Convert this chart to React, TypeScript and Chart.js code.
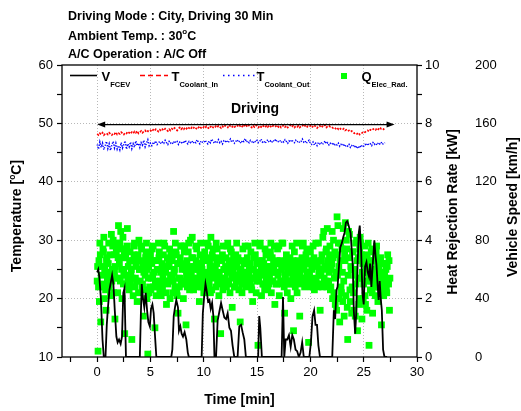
import { useEffect, useRef } from 'react';
import { Chart, registerables } from 'chart.js';

Chart.register(...registerables);

const FONT = '"Liberation Sans", Arial, Helvetica, sans-serif';

// ---- axis ticks ----
const timeTicks = [-2.5, 0, 2.5, 5, 7.5, 10, 12.5, 15, 17.5, 20, 22.5, 25, 27.5, 30];
const timeLabelled = [0, 5, 10, 15, 20, 25, 30];
const timeGrid = [0, 5, 10, 15, 20, 25];
const tempTicks = [10, 15, 20, 25, 30, 35, 40, 45, 50, 55, 60];
const tempLabelled = [10, 20, 30, 40, 50, 60];
const tempGrid = [20, 30, 40, 50];
const heatTicks = [0, 1, 2, 3, 4, 5, 6, 7, 8, 9, 10];
const heatLabelled = [0, 2, 4, 6, 8, 10];
const speedTicks = [0, 40, 80, 120, 160, 200];

// ---- measured series ----
// heat rejection of the electric radiator [kW], one sample every 2.5 s
const qStepMin = 2.5 / 60;
const qElecRad = [
  2.6, 3.1, 0.2, 2.4, 3.3, 1.9, 3.9, 3.5, 1.2, 2.8, 3.1, 2.5, 2.4, 3.7, 3.6, 4.1, 2.0, 3.0, 2.9, 2.3, 1.6, 3.3, 3.4, 2.7,
  2.5, 3.2, 3.9, 2.4, 2.8, 3.5, 2.1, 2.9, 4.2, 2.6, 3.0, 3.8, 4.0, 2.2, 3.5, 2.9, 1.3, 3.1, 2.7, 3.6, 3.8, 3.9, 2.2, 3.4,
  4.5, 2.7, 3.2, 3.9, 2.6, 4.3, 3.7, 3.0, 2.0, 3.4, 4.1, 2.5, 2.9, 3.6, 0.8, 2.8, 3.4, 3.7, 2.5, 3.8, 4.4, 2.6, 3.1, 2.4,
  2.3, 3.3, 3.6, 2.5, 2.8, 3.0, 0.6, 2.7, 3.3, 2.1, 3.8, 3.5, 3.9, 2.4, 2.7, 3.2, 3.1, 2.6, 1.9, 3.4, 3.5, 2.2, 4.0, 3.0,
  3.0, 2.6, 3.8, 3.3, 3.7, 2.4, 2.5, 3.1, 1.4, 2.9, 3.2, 2.3, 2.8, 3.4, 3.6, 3.9, 2.0, 3.0, 0.1, 2.7, 3.1, 2.2, 2.4, 3.3,
  3.5, 2.3, 2.7, 3.2, 3.7, 2.8, 3.8, 2.4, 2.9, 3.3, 1.0, 2.6, 3.3, 2.1, 2.4, 3.0, 3.0, 2.5, 3.9, 3.4, 3.6, 2.3, 2.6, 2.9,
  2.1, 3.0, 3.2, 2.4, 2.7, 3.5, 3.9, 2.6, 3.8, 2.9, 3.0, 2.2, 1.8, 3.1, 3.4, 2.5, 2.6, 3.3, 3.1, 3.7, 2.0, 2.8, 3.5, 2.7,
  2.8, 3.3, 2.2, 2.6, 4.3, 2.9, 3.0, 2.4, 3.9, 3.6, 3.5, 2.2, 2.1, 3.2, 1.5, 2.7, 3.2, 2.4, 2.7, 3.4, 3.8, 2.5, 3.8, 3.0,
  3.1, 2.5, 2.0, 3.2, 3.6, 3.8, 2.6, 3.0, 1.1, 2.8, 3.3, 2.4, 2.8, 3.6, 3.9, 2.5, 2.3, 3.1, 4.0, 2.6, 2.9, 3.4, 4.1, 2.7,
  3.4, 2.3, 2.5, 3.1, 3.0, 2.6, 3.8, 3.3, 3.7, 2.5, 2.7, 3.0, 3.2, 2.4, 1.9, 2.8, 3.5, 3.9, 2.4, 3.2, 3.0, 2.7, 2.6, 3.4,
  2.2, 2.9, 3.6, 2.5, 2.9, 3.4, 3.3, 2.3, 3.9, 2.8, 3.8, 2.6, 2.5, 3.3, 3.1, 2.2, 4.1, 2.9, 2.3, 3.5, 3.4, 3.7, 2.7, 3.1,
  1.3, 2.8, 3.0, 2.4, 3.9, 3.2, 3.7, 2.6, 2.8, 3.4, 2.1, 2.9, 3.3, 2.5, 0.8, 2.7, 2.6, 3.3, 3.5, 2.3, 3.8, 3.0, 3.0, 2.5,
  2.7, 3.1, 3.4, 2.4, 3.8, 2.9, 3.9, 2.6, 2.5, 3.3, 3.1, 2.2, 3.7, 3.0, 3.6, 2.7, 1.7, 2.8, 2.9, 3.4, 3.2, 2.4, 2.4, 3.1,
  3.5, 2.6, 3.9, 3.1, 2.8, 3.4, 3.3, 2.3, 2.6, 3.0, 1.2, 2.8, 3.0, 2.5, 2.2, 3.3, 3.7, 2.6, 2.7, 3.2, 3.2, 3.8, 2.4, 2.9,
  2.9, 3.3, 3.4, 2.5, 3.8, 2.8, 3.1, 2.6, 2.5, 3.2, 3.6, 2.4, 2.3, 3.0, 1.9, 2.7, 3.0, 3.4, 2.7, 3.9, 3.5, 2.9, 2.2, 2.6,
  3.2, 2.7, 0.4, 2.9, 2.6, 3.3, 3.8, 3.9, 2.9, 3.1, 2.1, 2.8, 3.3, 2.5, 2.5, 3.2, 3.0, 2.3, 3.7, 2.9, 3.5, 2.6, 2.7, 3.1,
  2.4, 3.0, 3.1, 2.5, 2.8, 3.4, 3.6, 3.9, 2.2, 2.9, 3.4, 2.6, 2.6, 3.2, 3.0, 3.8, 1.8, 2.9, 3.2, 2.5, 2.5, 3.3, 3.7, 2.8,
  2.9, 3.8, 2.1, 3.2, 3.3, 2.6, 2.6, 3.0, 3.9, 2.5, 3.9, 3.1, 3.1, 2.4, 1.5, 2.8, 2.8, 3.3, 3.5, 2.6, 2.2, 2.9, 3.0, 2.5,
  2.5, 3.2, 3.4, 2.6, 2.0, 2.9, 3.1, 3.8, 2.7, 3.3, 0.9, 2.8, 3.6, 2.5, 2.4, 3.0, 3.0, 3.9, 2.2, 3.2, 3.3, 2.6, 2.8, 3.1,
  1.4, 2.9, 3.2, 2.5, 2.6, 3.4, 3.8, 2.7, 3.9, 3.1, 3.0, 2.4, 2.7, 3.3, 3.5, 2.5, 3.7, 2.9, 3.3, 2.6, 0.5, 2.8, 2.9, 3.2,
  3.6, 2.5, 2.4, 3.0, 3.1, 2.6, 3.8, 3.2, 3.4, 2.3, 2.7, 3.1, 3.9, 2.6, 2.5, 3.3, 3.2, 2.4, 3.9, 2.9, 3.0, 2.5, 1.6, 2.8,
  2.8, 3.3, 3.5, 2.4, 4.1, 3.0, 4.3, 2.7, 3.1, 2.5, 2.6, 3.6, 3.7, 2.4, 4.4, 3.2, 3.3, 2.6, 2.9, 3.5, 3.8, 2.3, 2.4, 3.0,
  3.2, 4.3, 2.0, 3.4, 4.0, 2.2, 2.7, 3.6, 1.8, 2.9, 3.5, 1.6, 4.8, 2.8, 4.5, 3.9, 3.1, 2.0, 1.2, 3.3, 3.9, 2.4, 2.2, 3.7,
  2.9, 1.9, 4.4, 2.6, 1.4, 3.5, 3.3, 4.6, 2.1, 4.0, 3.7, 1.7, 0.6, 2.8, 4.3, 3.4, 4.2, 2.3, 1.9, 3.1, 3.0, 1.5, 2.4, 3.6,
  3.6, 2.2, 1.6, 3.0, 2.8, 1.4, 3.9, 2.5, 4.0, 3.3, 0.9, 2.7, 3.4, 1.8, 2.0, 3.7, 4.1, 3.9, 2.7, 3.5, 1.3, 2.9, 3.2, 2.0,
  2.5, 3.4, 3.8, 2.1, 1.8, 3.0, 2.9, 1.6, 3.5, 2.6, 3.9, 3.3, 0.4, 2.8, 3.1, 2.3, 2.6, 3.6, 3.7, 2.2, 1.5, 3.0, 2.8, 2.4,
  3.3, 2.5, 2.1, 3.4, 3.6, 3.8, 2.7, 3.1, 1.9, 2.8, 3.0, 2.4, 2.4, 3.3, 3.4, 2.6, 1.1, 2.5, 2.8, 3.2, 3.2, 2.1, 2.3, 2.9,
  2.7, 3.2, 3.0, 2.4, 2.2, 3.1, 3.5, 2.6, 2.5, 3.3, 1.6, 2.7,
];

// coolant temperatures [°C], one sample every 7.5 s
const coolantStepMin = 0.125;
const tCoolantIn = [
  48.2, 48.0, 48.3, 48.1, 48.4, 48.0, 48.2, 48.3,
  48.1, 48.4, 48.2, 48.0, 48.3, 48.2, 48.5, 48.1,
  48.3, 48.2, 48.5, 48.3, 48.1, 48.4, 48.3, 48.6,
  48.4, 48.2, 48.5, 48.3, 48.6, 48.4, 48.7, 48.3,
  48.5, 48.7, 48.4, 48.6, 48.8, 48.5, 48.7, 48.6,
  48.8, 48.6, 48.9, 48.7, 49.0, 48.8, 48.6, 48.9,
  48.7, 49.0, 48.8, 49.1, 48.9, 48.7, 49.0, 48.8,
  49.1, 48.9, 49.2, 49.0, 48.8, 49.1, 49.3, 49.0,
  49.2, 49.0, 49.3, 49.1, 49.4, 49.2, 49.0, 49.3,
  49.1, 49.4, 49.2, 49.0, 49.3, 49.5, 49.2, 49.1,
  49.4, 49.2, 49.5, 49.3, 49.1, 49.4, 49.6, 49.3,
  49.2, 49.5, 49.3, 49.6, 49.4, 49.2, 49.5, 49.3,
  49.6, 49.4, 49.3, 49.7, 49.5, 49.3, 49.6, 49.4,
  49.5, 49.7, 49.4, 49.6, 49.3, 49.5, 49.8, 49.4,
  49.6, 49.4, 49.7, 49.5, 49.3, 49.6, 49.4, 49.7,
  49.5, 49.3, 49.6, 49.4, 49.7, 49.5, 49.3, 49.6,
  49.4, 49.7, 49.5, 49.3, 49.6, 49.4, 49.5, 49.7,
  49.4, 49.6, 49.3, 49.5, 49.7, 49.4, 49.6, 49.3,
  49.5, 49.7, 49.4, 49.6, 49.3, 49.5, 49.4, 49.6,
  49.3, 49.5, 49.7, 49.4, 49.6, 49.3, 49.5, 49.4,
  49.6, 49.3, 49.5, 49.7, 49.4, 49.2, 49.5, 49.6,
  49.3, 49.5, 49.4, 49.7, 49.3, 49.5, 49.6, 49.4,
  49.4, 49.2, 49.3, 49.1, 49.3, 49.0, 49.2, 49.0,
  48.9, 49.1, 48.8, 48.9, 48.7, 48.8, 48.6, 48.7,
  48.5, 48.3, 48.4, 48.2, 48.4, 48.1, 48.3, 48.4,
  48.6, 48.5, 48.7, 48.8, 48.6, 48.9, 48.8, 49.0,
  49.1, 48.9, 49.2, 49.0, 49.3, 49.1, 49.2, 49.0,
  49.3,
];
const tCoolantOut = [
  46.4, 45.6, 46.8, 45.9, 46.6, 45.5, 46.2, 46.9,
  45.7, 46.5, 45.4, 46.3, 46.9, 45.8, 46.6, 45.6,
  46.2, 45.5, 46.7, 45.8, 46.4, 47.0, 45.6, 46.5,
  46.0, 46.8, 45.7, 46.5, 45.9, 47.0, 46.2, 46.6,
  45.9, 46.7, 46.3, 47.1, 46.0, 46.6, 47.2, 46.2,
  46.6, 46.2, 46.8, 46.5, 47.0, 46.4, 46.7, 46.9,
  46.5, 46.8, 46.6, 47.1, 46.7, 46.4, 46.9, 46.6,
  46.8, 46.5, 47.0, 46.7, 46.9, 46.4, 46.8, 46.6,
  46.9, 46.6, 47.1, 46.8, 46.5, 46.9, 46.7, 47.0,
  46.6, 46.9, 46.7, 47.2, 46.8, 46.5, 47.0, 46.8,
  46.7, 47.1, 46.8, 46.5, 47.0, 46.7, 47.3, 46.9,
  46.6, 47.0, 46.8, 47.2, 46.7, 46.9, 46.5, 47.0,
  46.8, 47.1, 46.7, 46.9, 47.3, 46.8, 47.0, 46.6,
  46.9, 47.2, 46.8, 47.0, 46.6, 47.1, 46.9, 47.4,
  46.8, 47.0, 46.7, 47.1, 46.9, 46.6, 47.0, 46.8,
  47.1, 46.7, 46.9, 47.3, 46.8, 47.0, 46.6, 46.9,
  47.2, 46.8, 47.0, 46.7, 47.1, 46.9, 47.3, 46.8,
  46.9, 47.1, 46.7, 47.0, 46.8, 47.2, 46.9, 46.6,
  47.0, 46.8, 47.2, 46.9, 46.7, 47.1, 46.8, 47.0,
  46.7, 46.9, 47.3, 46.8, 47.0, 46.6, 46.9, 47.1,
  46.6, 46.4, 46.8, 46.3, 46.6, 46.2, 46.7, 46.5,
  46.8, 46.4, 46.6, 47.0, 46.5, 46.7, 46.3, 46.6,
  46.4, 46.7, 46.2, 46.5, 46.3, 46.6, 46.1, 46.4,
  46.2, 46.5, 46.0, 46.3, 46.1, 46.4, 45.9, 46.2,
  46.0, 46.3, 45.8, 46.1, 45.7, 46.2, 45.9, 46.3,
  46.1, 46.4, 46.2, 46.6, 46.3, 46.5, 46.2, 46.7,
  46.4, 46.6, 46.3, 46.7, 46.5, 46.8, 46.4, 46.6,
  46.7,
];

// vehicle speed trace: time [min] and speed [km/h]
const speedTime = [
  0, 0.1, 0.2, 0.35, 0.5, 0.62, 0.78, 0.9, 1.0, 1.15, 1.3, 1.4, 1.52, 1.65, 1.8, 1.92, 2.05, 2.2, 2.33, 2.45, 2.56, 2.7,
  4.0, 4.1, 4.18, 4.3, 4.42, 4.55, 4.68, 4.8, 4.94, 5.05, 5.18, 5.3, 5.42, 5.55,
  6.95, 7.05, 7.18, 7.3, 7.42, 7.58, 7.67, 7.8, 7.92, 8.05, 8.2, 8.36, 8.5, 8.6,
  9.8, 9.91, 10.03, 10.16, 10.28, 10.4, 10.53, 10.65, 10.78, 10.9, 11.0,
  11.15, 11.3, 11.46, 11.62, 11.77, 11.93, 12.09, 12.24, 12.4, 12.55, 12.7, 12.86,
  13.17, 13.33, 13.5, 13.64, 13.8, 13.95,
  15.1, 15.2, 15.3, 15.45,
  17.3, 17.43, 17.55, 17.68, 17.83, 17.99, 18.15, 18.3, 18.45, 18.61, 18.76, 18.92, 19.08, 19.23, 19.38,
  19.9, 20.05, 20.2, 20.35, 20.48, 20.62, 20.75, 20.9,
  22.05, 22.2, 22.32, 22.45, 22.55, 22.68, 22.8, 22.95, 23.08, 23.2, 23.33, 23.45, 23.55, 23.66, 23.77,
  23.88, 23.98, 24.07, 24.2, 24.3, 24.42, 24.54, 24.63, 24.76, 24.88, 25.0, 25.13, 25.26, 25.38, 25.5,
  25.6, 25.72, 25.82, 26.0, 26.1, 26.2, 26.3, 26.4, 26.5, 26.6, 26.7, 26.82, 26.95,
  27.2,
];
const speedKmh = [
  58, 60, 55, 40, 12, 0, 0, 22, 33, 46, 52, 56, 50, 32, 14, 10, 12, 9, 14, 44, 47, 0,
  0, 30, 50, 40, 34, 44, 32, 24, 21, 33, 36, 30, 15, 0,
  0, 5, 28, 34, 39, 34, 18, 21, 16, 14, 17, 12, 3, 0,
  0, 30, 41, 50, 45, 38, 39, 33, 37, 28, 0,
  0, 25, 31, 37, 32, 27, 26, 30, 20, 18, 8, 0,
  0, 21, 22, 17, 12, 0,
  0, 28, 20, 0,
  0, 41, 0, 12, 12, 15, 7, 15, 12, 5, 4, 0, 3, 10, 0,
  0, 10, 28, 32, 22, 22, 8, 0,
  0, 32, 26, 46, 48, 62, 75, 78, 82, 85, 92, 93, 91, 88, 85,
  73, 62, 32, 16, 30, 62, 85, 90, 73, 44, 36, 62, 65, 58, 55,
  64, 48, 60, 80, 70, 63, 50, 39, 52, 40, 32, 5, 0,
  0,
];

// "Driving" period marker
const drivingSpan = [0, 27.9];
const drivingArrowTemp = 49.8;

type Seg = { t: string; size: number; dy?: number };

function segFont(s: Seg) {
  return `bold ${s.size}px ${FONT}`;
}
function richWidth(ctx: CanvasRenderingContext2D, segs: Seg[]) {
  let w = 0;
  for (const s of segs) {
    ctx.font = segFont(s);
    w += ctx.measureText(s.t).width;
  }
  return w;
}
function drawRich(ctx: CanvasRenderingContext2D, segs: Seg[], x: number, y: number) {
  let cx = x;
  for (const s of segs) {
    ctx.font = segFont(s);
    ctx.fillText(s.t, cx, y + (s.dy || 0));
    cx += ctx.measureText(s.t).width;
  }
}
function drawVerticalRich(ctx: CanvasRenderingContext2D, segs: Seg[], baseX: number, centerY: number) {
  ctx.save();
  ctx.translate(baseX, centerY);
  ctx.rotate(-Math.PI / 2);
  drawRich(ctx, segs, -richWidth(ctx, segs) / 2, 0);
  ctx.restore();
}

const overlayPlugin = {
  id: 'overlay',
  afterDatasetsDraw(chart: any) {
    const { ctx, chartArea: a } = chart;
    const xs = chart.scales.x;
    const ys = chart.scales.y;
    ctx.save();
    ctx.setLineDash([]);
    ctx.strokeStyle = '#000';
    ctx.lineWidth = 1.3;
    ctx.strokeRect(a.left, a.top, a.right - a.left, a.bottom - a.top);

    // legend row
    const ly = 75.5;
    ctx.lineWidth = 1.6;
    ctx.beginPath();
    ctx.moveTo(70, ly);
    ctx.lineTo(97, ly);
    ctx.stroke();
    ctx.strokeStyle = '#ff0000';
    ctx.lineWidth = 1.5;
    ctx.setLineDash([5, 3]);
    ctx.beginPath();
    ctx.moveTo(140, ly);
    ctx.lineTo(168, ly);
    ctx.stroke();
    ctx.strokeStyle = '#0000ff';
    ctx.setLineDash([1.5, 3.5]);
    ctx.beginPath();
    ctx.moveTo(223, ly);
    ctx.lineTo(255, ly);
    ctx.stroke();
    ctx.setLineDash([]);
    ctx.fillStyle = '#00ff00';
    ctx.fillRect(341, 73, 6, 6);

    ctx.fillStyle = '#000';
    ctx.textAlign = 'left';
    ctx.textBaseline = 'alphabetic';
    drawRich(ctx, [{ t: 'V', size: 13 }, { t: 'FCEV', size: 7.5, dy: 6 }], 101.5, 81);
    drawRich(ctx, [{ t: 'T', size: 13 }, { t: 'Coolant_In', size: 7.5, dy: 6 }], 171.5, 81);
    drawRich(ctx, [{ t: 'T', size: 13 }, { t: 'Coolant_Out', size: 7.5, dy: 6 }], 256.5, 81);
    drawRich(ctx, [{ t: 'Q', size: 13 }, { t: 'Elec_Rad.', size: 7.5, dy: 6 }], 361.5, 81);

    // driving period arrow
    const ay = ys.getPixelForValue(drivingArrowTemp);
    const x0 = xs.getPixelForValue(drivingSpan[0]);
    const x1 = xs.getPixelForValue(drivingSpan[1]);
    ctx.strokeStyle = '#000';
    ctx.lineWidth = 1.2;
    ctx.beginPath();
    ctx.moveTo(x0 + 4, ay);
    ctx.lineTo(x1 - 4, ay);
    ctx.stroke();
    ctx.beginPath();
    ctx.moveTo(x0, ay);
    ctx.lineTo(x0 + 8, ay - 3);
    ctx.lineTo(x0 + 8, ay + 3);
    ctx.closePath();
    ctx.moveTo(x1, ay);
    ctx.lineTo(x1 - 8, ay - 3);
    ctx.lineTo(x1 - 8, ay + 3);
    ctx.closePath();
    ctx.fill();
    ctx.font = `bold 14px ${FONT}`;
    ctx.textAlign = 'center';
    ctx.fillText('Driving', 255, 113);
    ctx.restore();
  },
  afterDraw(chart: any) {
    const { ctx } = chart;
    ctx.save();
    ctx.fillStyle = '#000';
    ctx.textAlign = 'left';
    ctx.textBaseline = 'alphabetic';
    drawRich(ctx, [{ t: 'Driving Mode : City, Driving 30 Min', size: 12.5 }], 68, 20);
    drawRich(ctx, [{ t: 'Ambient Temp. : 30', size: 12.5 }, { t: 'o', size: 8, dy: -6 }, { t: 'C', size: 12.5 }], 68, 40);
    drawRich(ctx, [{ t: 'A/C Operation : A/C Off', size: 12.5 }], 68, 58);

    drawVerticalRich(ctx, [{ t: 'Temperature [', size: 14 }, { t: 'o', size: 8.5, dy: -6 }, { t: 'C]', size: 14 }], 21, 216);
    drawVerticalRich(ctx, [{ t: 'Heat Rejection Rate [kW]', size: 14 }], 456.5, 212);
    drawVerticalRich(ctx, [{ t: 'Vehicle Speed [km/h]', size: 14 }], 517, 207);
    ctx.textAlign = 'center';
    ctx.font = `bold 14px ${FONT}`;
    ctx.fillText('Time [min]', 239.5, 404);
    ctx.restore();
  },
};

const tickFont = { family: FONT, size: 13 };
const GRID = '#b8b8b8';
const NONE = 'rgba(0,0,0,0)';

export default function App() {
  const ref = useRef<HTMLCanvasElement>(null);

  useEffect(() => {
    const canvas = ref.current;
    if (!canvas) return;

    const qPoints = qElecRad.map((v, i) => ({ x: i * qStepMin, y: v }));
    const inPoints = tCoolantIn.map((v, i) => ({ x: i * coolantStepMin, y: v }));
    const outPoints = tCoolantOut.map((v, i) => ({ x: i * coolantStepMin, y: v }));
    const speedPoints = speedTime.map((t, i) => ({ x: t, y: speedKmh[i] }));

    const chart = new Chart(canvas, {
      type: 'scatter',
      data: {
        datasets: [
          {
            label: 'V_FCEV',
            data: speedPoints,
            yAxisID: 'ySpeed',
            showLine: true,
            borderColor: '#000',
            borderWidth: 1.8,
            pointRadius: 0,
            tension: 0,
          },
          {
            label: 'T_Coolant_In',
            data: inPoints,
            yAxisID: 'y',
            showLine: true,
            borderColor: '#ff0000',
            borderWidth: 1.7,
            borderDash: [2, 1.5],
            pointRadius: 0,
          },
          {
            label: 'T_Coolant_Out',
            data: outPoints,
            yAxisID: 'y',
            showLine: true,
            borderColor: '#0000ff',
            borderWidth: 1.5,
            borderDash: [1.2, 1.5],
            pointRadius: 0,
          },
          {
            label: 'Q_Elec_Rad.',
            data: qPoints,
            yAxisID: 'yQ',
            showLine: false,
            pointStyle: 'rect',
            pointRadius: 4.8,
            pointBorderWidth: 0,
            pointBackgroundColor: '#00ff00',
            backgroundColor: '#00ff00',
            borderColor: '#00ff00',
          },
        ],
      },
      options: {
        responsive: false,
        animation: false,
        devicePixelRatio: 1,
        events: [],
        layout: { padding: { top: 65, left: 0, right: 0, bottom: 0 } },
        plugins: { legend: { display: false }, tooltip: { enabled: false } },
        scales: {
          x: {
            type: 'linear',
            position: 'bottom',
            min: -3.3,
            max: 30,
            afterBuildTicks: (s: any) => {
              s.ticks = timeTicks.map((v) => ({ value: v }));
            },
            afterFit: (s: any) => {
              s.height = 54;
            },
            ticks: {
              autoSkip: false,
              maxRotation: 0,
              color: '#000',
              font: tickFont,
              padding: 3,
              callback: (v: any) => (timeLabelled.includes(v) ? String(v) : ''),
            },
            grid: {
              color: (c: any) => (timeGrid.includes(c.tick?.value) ? GRID : NONE),
              lineWidth: 1,
              tickColor: '#000',
              tickLength: 5,
              tickWidth: 1.2,
            },
            border: { display: false, dash: [1, 2] },
          },
          y: {
            type: 'linear',
            position: 'left',
            min: 10,
            max: 60,
            afterBuildTicks: (s: any) => {
              s.ticks = tempTicks.map((v) => ({ value: v }));
            },
            afterFit: (s: any) => {
              s.width = 62;
            },
            ticks: {
              autoSkip: false,
              color: '#000',
              font: tickFont,
              padding: 4,
              callback: (v: any) => (tempLabelled.includes(v) ? String(v) : ''),
            },
            grid: {
              color: (c: any) => (tempGrid.includes(c.tick?.value) ? GRID : NONE),
              lineWidth: 1,
              tickColor: '#000',
              tickLength: 5,
              tickWidth: 1.2,
            },
            border: { display: false, dash: [1, 2] },
          },
          yQ: {
            type: 'linear',
            position: 'right',
            weight: 0,
            min: 0,
            max: 10,
            afterBuildTicks: (s: any) => {
              s.ticks = heatTicks.map((v) => ({ value: v }));
            },
            afterFit: (s: any) => {
              s.width = 55;
            },
            ticks: {
              autoSkip: false,
              color: '#000',
              font: tickFont,
              padding: 3,
              callback: (v: any) => (heatLabelled.includes(v) ? String(v) : ''),
            },
            grid: {
              drawOnChartArea: false,
              tickColor: '#000',
              tickLength: 5,
              tickWidth: 1.2,
            },
            border: { display: false },
          },
          ySpeed: {
            type: 'linear',
            position: 'right',
            weight: 1,
            min: 0,
            max: 200,
            afterBuildTicks: (s: any) => {
              s.ticks = speedTicks.map((v) => ({ value: v }));
            },
            afterFit: (s: any) => {
              s.width = 49;
            },
            ticks: {
              autoSkip: false,
              color: '#000',
              font: tickFont,
              padding: 3,
            },
            grid: { display: false, drawOnChartArea: false, drawTicks: false },
            border: { display: false },
          },
        },
      },
      plugins: [overlayPlugin],
    } as any);

    return () => chart.destroy();
  }, []);

  return (
    <div style={{ position: 'absolute', left: 0, top: 0, width: 521, height: 411, background: '#fff' }}>
      <canvas ref={ref} width={521} height={411} style={{ display: 'block', width: 521, height: 411 }} />
    </div>
  );
}
